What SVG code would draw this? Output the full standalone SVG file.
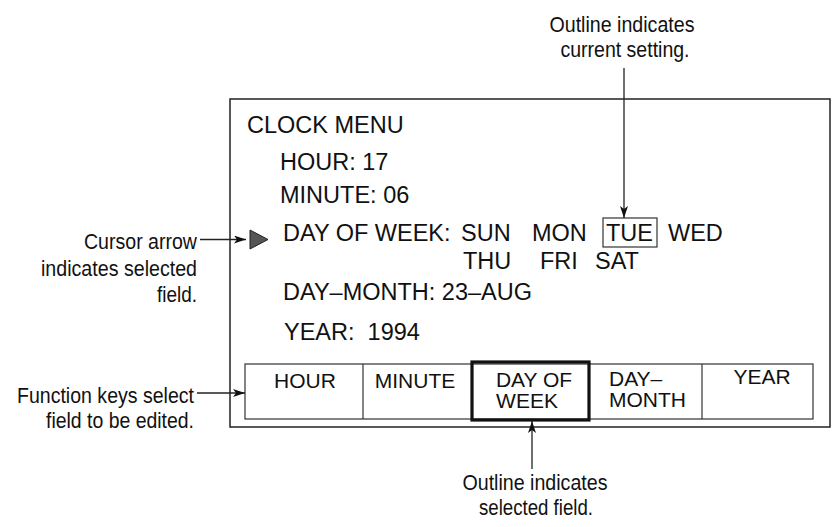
<svg xmlns="http://www.w3.org/2000/svg" width="832" height="527" viewBox="0 0 832 527">
<defs>
<style>
.t{font-family:"Liberation Sans",Arial,sans-serif;font-size:23.5px;fill:#111}
.k{font-family:"Liberation Sans",Arial,sans-serif;font-size:21px;fill:#111}
.a{font-family:"Liberation Sans",Arial,sans-serif;font-size:22px;fill:#111}
.box{fill:none;stroke:#222;stroke-width:1.5}
.thin{fill:none;stroke:#333;stroke-width:1.2}
.bold{fill:none;stroke:#111;stroke-width:3.2}
.con{fill:none;stroke:#222;stroke-width:1.3}
</style>
<marker id="ah" viewBox="0 0 12 8" refX="12" refY="4" markerWidth="12" markerHeight="8" markerUnits="userSpaceOnUse" orient="auto">
<path d="M0,0 L12,4 L0,8 L3,4 Z" fill="#111"/>
</marker>
</defs>
<rect width="832" height="527" fill="#fff"/>

<g id="screen">
<rect class="box" x="230" y="99" width="600" height="328"/>
<text class="t" x="247" y="133">CLOCK MENU</text>
<text class="t" x="280" y="170">HOUR: 17</text>
<text class="t" x="280" y="203">MINUTE: 06</text>
<polygon points="250,230 268,239.5 250,249" fill="#555" stroke="#222" stroke-width="1"/>
<text class="t" x="283" y="241">DAY OF WEEK:</text>
<text class="t" x="461" y="241">SUN</text>
<text class="t" x="532" y="241">MON</text>
<rect class="thin" x="603" y="218" width="54" height="29"/>
<text class="t" x="606" y="241">TUE</text>
<text class="t" x="668" y="241">WED</text>
<text class="t" x="463" y="269">THU</text>
<text class="t" x="540" y="269">FRI</text>
<text class="t" x="595" y="269">SAT</text>
<text class="t" x="283" y="300">DAY–MONTH: 23–AUG</text>
<text class="t" x="284" y="340" xml:space="preserve">YEAR:  1994</text>
</g>

<g id="function-keys">
<rect class="thin" x="245" y="364" width="568" height="55"/>
<line class="thin" x1="363" y1="364" x2="363" y2="419"/>
<line class="thin" x1="702" y1="364" x2="702" y2="419"/>
<text class="k" x="305" y="388" text-anchor="middle">HOUR</text>
<text class="k" x="415" y="388" text-anchor="middle">MINUTE</text>
<g id="key-day-of-week">
<rect class="bold" x="472" y="362" width="117" height="58" fill="#fff"/>
<text class="k" x="534" y="387" text-anchor="middle">DAY OF</text>
<text class="k" x="527" y="408" text-anchor="middle">WEEK</text>
</g>
<text class="k" x="609" y="386">DAY–</text>
<text class="k" x="609" y="407">MONTH</text>
<text class="k" x="762" y="384" text-anchor="middle">YEAR</text>
</g>

<g id="label-current">
<text class="a" x="622" y="32" text-anchor="middle" textLength="145" lengthAdjust="spacingAndGlyphs">Outline indicates</text>
<text class="a" x="625" y="57" text-anchor="middle" textLength="129" lengthAdjust="spacingAndGlyphs">current setting.</text>
</g>
<g id="label-cursor">
<text class="a" x="197" y="249" text-anchor="end" textLength="113" lengthAdjust="spacingAndGlyphs">Cursor arrow</text>
<text class="a" x="197" y="276" text-anchor="end" textLength="156" lengthAdjust="spacingAndGlyphs">indicates selected</text>
<text class="a" x="197" y="302" text-anchor="end" textLength="40" lengthAdjust="spacingAndGlyphs">field.</text>
</g>
<g id="label-function">
<text class="a" x="194" y="403" text-anchor="end" textLength="177" lengthAdjust="spacingAndGlyphs">Function keys select</text>
<text class="a" x="194" y="428" text-anchor="end" textLength="148" lengthAdjust="spacingAndGlyphs">field to be edited.</text>
</g>
<g id="label-selected">
<text class="a" x="535" y="490" text-anchor="middle" textLength="145" lengthAdjust="spacingAndGlyphs">Outline indicates</text>
<text class="a" x="536" y="515" text-anchor="middle" textLength="114" lengthAdjust="spacingAndGlyphs">selected field.</text>
</g>

<g id="connectors">
<line class="con" x1="624" y1="68" x2="624" y2="218" marker-end="url(#ah)"/>
<line class="con" x1="200" y1="239.5" x2="246" y2="239.5" marker-end="url(#ah)"/>
<line class="con" x1="197" y1="393" x2="245" y2="393" marker-end="url(#ah)"/>
<line class="con" x1="532" y1="469" x2="532" y2="421" marker-end="url(#ah)"/>
</g>
</svg>
